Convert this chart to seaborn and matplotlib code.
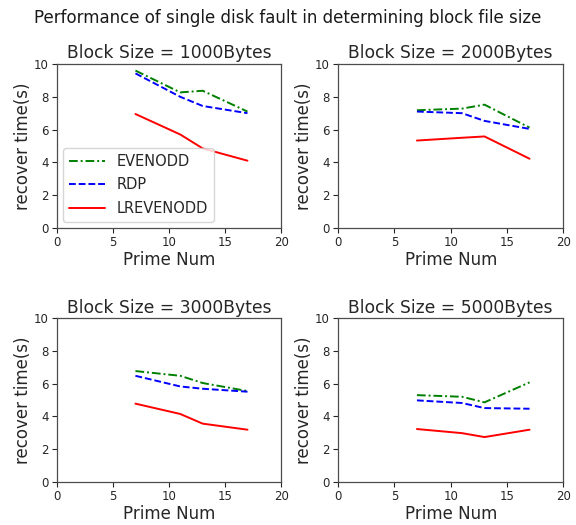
import numpy as np
import pandas as pd
import matplotlib
matplotlib.use("Agg")
import matplotlib.pyplot as plt
import seaborn as sns

# Prime numbers used as the code parameter
primes = [7, 11, 13, 17]

block_titles = ["Block Size = 1000Bytes", "Block Size = 2000Bytes",
                "Block Size = 3000Bytes", "Block Size = 5000Bytes"]

# Recovery time (s) per scheme, one list per block size
evenodd_1000 = [9.6, 8.27, 8.37, 7.1]
rdp_1000 = [9.43, 8.0, 7.44, 7.0]
lrevenodd_1000 = [6.95, 5.7, 4.85, 4.1]

evenodd_2000 = [7.18, 7.28, 7.52, 6.12]
rdp_2000 = [7.1, 7.0, 6.53, 6.04]
lrevenodd_2000 = [5.33, 5.5, 5.58, 4.22]

evenodd_3000 = [6.77, 6.48, 6.04, 5.55]
rdp_3000 = [6.48, 5.83, 5.69, 5.51]
lrevenodd_3000 = [4.78, 4.15, 3.56, 3.19]

evenodd_5000 = [5.30, 5.2, 4.86, 6.08]
rdp_5000 = [4.98, 4.82, 4.51, 4.47]
lrevenodd_5000 = [3.23, 2.98, 2.74, 3.19]

schemes = ["EVENODD", "RDP", "LREVENODD"]
series = [
    (evenodd_1000, rdp_1000, lrevenodd_1000),
    (evenodd_2000, rdp_2000, lrevenodd_2000),
    (evenodd_3000, rdp_3000, lrevenodd_3000),
    (evenodd_5000, rdp_5000, lrevenodd_5000),
]

palette = {"EVENODD": "g", "RDP": "b", "LREVENODD": "r"}
dashes = {"EVENODD": (4.5, 1.5, 1, 1.5), "RDP": (3.5, 1.5), "LREVENODD": ""}

sns.set_style("ticks")
plt.rcParams["font.family"] = ["DejaVu Sans"]

fig = plt.figure(figsize=(5.76, 5.25), dpi=100)
fig.text(0.5, 1 - 18 / 525,
         "Performance of single disk fault in determining block file size",
         fontsize=12, ha="center", va="center", color="0.1")

positions = [
    [0.099, 0.566, 0.389, 0.312],
    [0.587, 0.566, 0.391, 0.312],
    [0.099, 0.082, 0.389, 0.312],
    [0.587, 0.082, 0.391, 0.312],
]

for i, (pos, title, vals) in enumerate(zip(positions, block_titles, series)):
    ax = fig.add_axes(pos)
    rows = []
    for name, ys in zip(schemes, vals):
        for p, y in zip(primes, ys):
            rows.append({"prime": p, "time": y, "scheme": name})
    df = pd.DataFrame(rows)
    sns.lineplot(data=df, x="prime", y="time", hue="scheme", style="scheme",
                 palette=palette, dashes=dashes, hue_order=schemes,
                 style_order=schemes, linewidth=1.4, ax=ax,
                 legend=(i == 0))
    ax.set_xlim(0, 20)
    ax.set_ylim(0, 10)
    ax.set_xticks([0, 5, 10, 15, 20])
    ax.set_yticks([0, 2, 4, 6, 8, 10])
    ax.tick_params(labelsize=8.5, length=3.5, width=0.8, pad=2.5)
    ax.set_title(title, fontsize=12.3, pad=4)
    ax.set_xlabel("Prime Num", fontsize=12, labelpad=1)
    ax.set_ylabel("recover time(s)", fontsize=12, labelpad=1.5)
    for sp in ax.spines.values():
        sp.set_visible(True)
        sp.set_linewidth(0.9)
        sp.set_color("0.3")
    if i == 0:
        leg = ax.legend(loc="lower left", fontsize=10.5, frameon=True,
                        handlelength=2.5, borderaxespad=0.4,
                        labelspacing=0.6)
        leg.get_frame().set_edgecolor("0.8")

fig.savefig("out.png", dpi=100)
